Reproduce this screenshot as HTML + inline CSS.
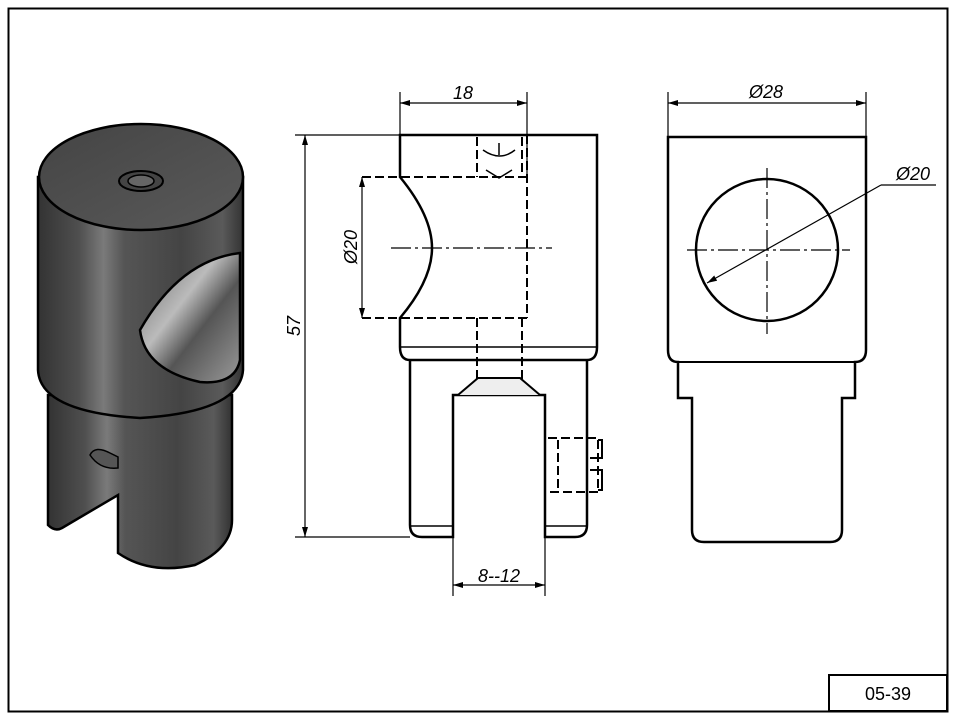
<!DOCTYPE html>
<html><head><meta charset="utf-8"><style>
html,body{margin:0;padding:0;background:#fff;}
svg{display:block;}
text{font-family:"Liberation Sans",sans-serif;font-style:italic;fill:#000;}
</style></head><body>
<svg width="957" height="720" viewBox="0 0 957 720" xmlns="http://www.w3.org/2000/svg">
<defs>
<marker id="ar" viewBox="0 0 10 6" refX="10" refY="3" markerWidth="10" markerHeight="6" orient="auto-start-reverse" markerUnits="userSpaceOnUse"><path d="M0,0 L10,3 L0,6 z" fill="#000"/></marker>
<linearGradient id="cyl" x1="0" x2="1" y1="0" y2="0">
<stop offset="0" stop-color="#333"/><stop offset="0.2" stop-color="#4f4f4f"/><stop offset="0.32" stop-color="#7a7a7a"/><stop offset="0.42" stop-color="#555"/><stop offset="0.7" stop-color="#444"/><stop offset="0.9" stop-color="#5a5a5a"/><stop offset="1" stop-color="#333"/>
</linearGradient>
<linearGradient id="top" x1="0" x2="1" y1="0" y2="1"><stop offset="0" stop-color="#444"/><stop offset="1" stop-color="#5a5a5a"/></linearGradient>
<linearGradient id="hole" x1="0" x2="1" y1="0" y2="1"><stop offset="0" stop-color="#666"/><stop offset="0.4" stop-color="#bbb"/><stop offset="0.6" stop-color="#555"/><stop offset="1" stop-color="#999"/></linearGradient>
</defs>
<rect x="0" y="0" width="957" height="720" fill="#fff"/>
<rect x="8.5" y="8.5" width="939" height="703" fill="none" stroke="#000" stroke-width="2"/>
<rect x="829" y="675" width="118" height="36" fill="#fff" stroke="#000" stroke-width="2"/>
<text x="888" y="700" font-size="18" text-anchor="middle" style="font-style:normal">05-39</text>

<!-- 3D view -->
<g stroke="#000" stroke-width="2.5">
<path d="M48,395 L48,525 Q55,532 62,528 L118,495 L118,553 Q150,575 195,565 Q232,548 232,520 L232,395 Z" fill="url(#cyl)"/>
<path d="M38,177 L38,370 Q40,412 140,418 Q240,412 243,370 L243,177 Z" fill="url(#cyl)"/>
<ellipse cx="141" cy="177" rx="102" ry="53" fill="url(#top)"/>
<ellipse cx="141" cy="181" rx="22" ry="10" fill="#444" stroke-width="2"/>
<ellipse cx="141" cy="181" rx="13" ry="6" fill="#666" stroke-width="1.5"/>
<path d="M240,253 Q180,260 140,330 Q145,370 200,382 Q235,385 240,360 Z" fill="url(#hole)"/>
<path d="M90,455 Q95,445 110,453 L118,457 L118,468 Q100,470 90,455 Z" fill="#555" stroke-width="1.5"/>
</g>

<!-- middle view -->
<g fill="none" stroke="#000">
<path d="M400,135 L597,135 L597,347 Q597,360 587,360 L410,360 Q400,360 400,347 L400,318 Q432,280 432,248 Q432,216 400,177 Z" stroke-width="2.5"/>
<line x1="400" y1="347" x2="597" y2="347" stroke-width="1.5"/>
<path d="M410,360 L410,525 Q410,537 422,537 L453,537 L453,395 L545,395 L545,537 L575,537 Q587,537 587,525 L587,360" stroke-width="2.5"/>
<line x1="410" y1="526" x2="453" y2="526" stroke-width="1.5"/>
<line x1="545" y1="526" x2="587" y2="526" stroke-width="1.5"/>
<g stroke-dasharray="9,4" stroke-width="2">
<line x1="362" y1="177" x2="527" y2="177"/>
<line x1="362" y1="318" x2="527" y2="318"/>
<line x1="527" y1="135" x2="527" y2="318"/>
<path d="M477,137 L477,177 M522,137 L522,177 M477,318 L477,382 M522,318 L522,382"/>
<path d="M548,438 L598,438 L598,492 L548,492 M558,440 L558,490"/>
</g>
<path d="M458,395 L478,378 L520,378 L540,395" stroke-width="2" fill="#eee"/>
<path d="M483,150 Q500,162 515,150 M499,143 L499,155 M486,170 L499,178 L512,170" stroke-width="1.5"/>
<path d="M598,440 L602,440 L602,458 L590,458 M590,470 L602,470 L602,490 L598,490" stroke-width="2"/>
<path d="M391,248 L552,248" stroke-dasharray="20,4,3,4" stroke-width="1.2"/>
<g stroke-width="1.2">
<line x1="400" y1="92" x2="400" y2="135"/><line x1="527" y1="92" x2="527" y2="177"/>
<line x1="400" y1="103" x2="527" y2="103" marker-start="url(#ar)" marker-end="url(#ar)"/>
<line x1="295" y1="135" x2="400" y2="135"/><line x1="295" y1="537" x2="410" y2="537"/>
<line x1="305" y1="135" x2="305" y2="537" marker-start="url(#ar)" marker-end="url(#ar)"/>
<line x1="362" y1="177" x2="362" y2="318" marker-start="url(#ar)" marker-end="url(#ar)"/>
<line x1="453" y1="537" x2="453" y2="596"/><line x1="545" y1="537" x2="545" y2="596"/>
<line x1="453" y1="585" x2="545" y2="585" marker-start="url(#ar)" marker-end="url(#ar)"/>
</g>
</g>
<text x="463" y="99" font-size="18" text-anchor="middle">18</text>
<text x="499" y="582" font-size="18" text-anchor="middle">8--12</text>
<text transform="translate(300,326) rotate(-90)" font-size="18" text-anchor="middle">57</text>
<text transform="translate(357,247) rotate(-90)" font-size="18" text-anchor="middle">Ø20</text>

<!-- right view -->
<g fill="none" stroke="#000">
<path d="M668,137 L866,137 L866,350 Q866,362 855,362 L855,398 L842,398 L842,530 Q842,542 830,542 L704,542 Q692,542 692,530 L692,398 L678,398 L678,362 Q668,362 668,350 Z" stroke-width="2.5"/>
<line x1="678" y1="362" x2="855" y2="362" stroke-width="2"/>
<circle cx="767" cy="250" r="71" stroke-width="2.5"/>
<path d="M687,250 L850,250 M767,168 L767,334" stroke-dasharray="20,4,3,4" stroke-width="1.2"/>
<g stroke-width="1.2">
<line x1="668" y1="92" x2="668" y2="137"/><line x1="866" y1="92" x2="866" y2="137"/>
<line x1="668" y1="103" x2="866" y2="103" marker-start="url(#ar)" marker-end="url(#ar)"/>
<line x1="707" y1="283" x2="881" y2="185" marker-start="url(#ar)"/>
<line x1="881" y1="185" x2="936" y2="185"/>
</g>
</g>
<text x="766" y="98" font-size="18" text-anchor="middle">Ø28</text>
<text x="913" y="180" font-size="18" text-anchor="middle">Ø20</text>
</svg>
</body></html>
